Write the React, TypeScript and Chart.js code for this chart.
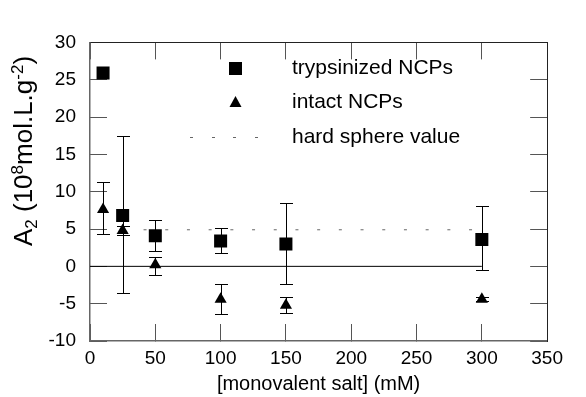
import { useEffect, useRef } from 'react';
import { Chart, registerables } from 'chart.js';
Chart.register(...registerables);

const salt = [10, 25, 50, 100, 150, 300];
const tryp = [25.9, 6.8, 4.1, 3.4, 3.0, 3.6];
const trypHi = [25.9, 17.4, 6.2, 5.2, 8.5, 8.1];
const trypLo = [25.9, -3.6, 2.1, 1.8, -2.4, -0.5];
const intact = [7.6, 4.8, 0.2, -4.4, -5.2, -4.4];
const intactHi = [11.3, 5.4, 1.3, -2.3, -4.1, -4.1];
const intactLo = [4.3, 4.2, -1.1, -6.4, -6.3, -4.7];
const hardSphere = 4.9;
const hardSphereX = [41, 300];
const zeroLineX = [0, 300];
const legendLabels = ['trypsinized NCPs', 'intact NCPs', 'hard sphere value'];
const xTitle = '[monovalent salt] (mM)';

const FONT = '"Liberation Sans", Arial, sans-serif';

const framePlugin = {
  id: 'frame',
  beforeDatasetsDraw(chart: any) {
    const { ctx, scales } = chart;
    const xs = scales.x, ys = scales.y;
    ctx.save();
    ctx.fillStyle = '#000';
    salt.forEach((sx, i) => {
      [[trypHi[i], trypLo[i]], [intactHi[i], intactLo[i]]].forEach(([hi, lo]) => {
        if (hi === lo) return;
        const px = Math.round(xs.getPixelForValue(sx));
        const ph = Math.round(ys.getPixelForValue(hi));
        const pl = Math.round(ys.getPixelForValue(lo));
        ctx.fillRect(px, ph, 1, pl - ph + 1);
        ctx.fillRect(px - 6, ph, 13, 1);
        ctx.fillRect(px - 6, pl, 13, 1);
      });
    });
    ctx.restore();
  },
  afterDraw(chart: any) {
    const { ctx } = chart;
    ctx.save();
    // legend
    ctx.fillStyle = '#000';
    ctx.fillRect(229, 62, 13, 13);
    ctx.beginPath();
    ctx.moveTo(235.5, 96); ctx.lineTo(241.5, 107); ctx.lineTo(229.5, 107);
    ctx.closePath(); ctx.fill();
    ctx.fillStyle = '#666';
    [190, 212, 233, 255].forEach((dx) => ctx.fillRect(dx, 137, 3, 1));
    ctx.fillStyle = '#000';
    ctx.font = `21px ${FONT}`;
    ctx.textBaseline = 'middle';
    ctx.textAlign = 'left';
    ctx.fillText(legendLabels[0], 292, 68);
    ctx.fillText(legendLabels[1], 292, 102);
    ctx.fillText(legendLabels[2], 292, 137);

    // x title
    ctx.textAlign = 'center';
    ctx.font = `20px ${FONT}`;
    ctx.fillText(xTitle, (chart.chartArea.left + chart.chartArea.right) / 2, 384);

    // y title
    ctx.translate(32, 151);
    ctx.rotate(-Math.PI / 2);
    ctx.textAlign = 'left';
    ctx.textBaseline = 'alphabetic';
    const big = 26, small = 17;
    const segs = [
      { t: 'A', s: big, dy: 0 },
      { t: '2', s: small, dy: 5 },
      { t: ' (10', s: big, dy: 0 },
      { t: '8', s: small, dy: -9 },
      { t: 'mol.L.g', s: big, dy: 0 },
      { t: '-2', s: small, dy: -9 },
      { t: ')', s: big, dy: 0 },
    ];
    let total = 0;
    segs.forEach((g) => { ctx.font = `${g.s}px ${FONT}`; total += ctx.measureText(g.t).width; });
    let cx = -total / 2;
    segs.forEach((g) => {
      ctx.font = `${g.s}px ${FONT}`;
      ctx.fillText(g.t, cx, g.dy);
      cx += ctx.measureText(g.t).width;
    });
    ctx.restore();
  },
};

const innerGrid = { display: true, drawOnChartArea: false, drawTicks: true, tickLength: -17, color: '#555', lineWidth: 1 };

export default function App() {
  const ref = useRef<HTMLCanvasElement>(null);
  useEffect(() => {
    document.body.style.margin = '0';
    const chart = new Chart(ref.current!, {
      type: 'scatter',
      data: {
        datasets: [
          {
            label: 'zero',
            data: zeroLineX.map((x) => ({ x, y: 0 })),
            showLine: true,
            borderColor: '#000',
            borderWidth: 1,
            pointRadius: 0,
          },
          {
            label: legendLabels[2],
            data: hardSphereX.map((x) => ({ x, y: hardSphere })),
            showLine: true,
            borderColor: '#666',
            borderWidth: 1,
            borderDash: [3, 18.7],
            pointRadius: 0,
          },
          {
            label: legendLabels[0],
            data: salt.map((x, i) => ({ x, y: tryp[i] })),
            pointStyle: 'rect',
            pointRadius: 9.2,
            backgroundColor: '#000',
            borderColor: '#000',
            borderWidth: 0,
          },
          {
            label: legendLabels[1],
            data: salt.map((x, i) => ({ x, y: intact[i] })),
            pointStyle: 'triangle',
            pointRadius: 7,
            backgroundColor: '#000',
            borderColor: '#000',
            borderWidth: 0,
          },
        ],
      } as any,
      options: {
        animation: false,
        responsive: false,
        layout: { padding: { top: 23, right: 20, left: 0, bottom: 0 } },
        plugins: { legend: { display: false }, tooltip: { enabled: false } },
        scales: {
          x: {
            type: 'linear',
            min: 0,
            max: 350,
            ticks: { stepSize: 50, color: '#000', font: { family: FONT, size: 19 }, padding: 23, maxRotation: 0 },
            grid: innerGrid,
            border: { display: true, color: '#666', width: 1.5 },
            afterFit: (s: any) => { s.height = 56; },
          },
          x2: {
            type: 'linear',
            position: 'top',
            min: 0,
            max: 350,
            ticks: { display: false, stepSize: 50 },
            grid: innerGrid,
            border: { display: true, color: '#222', width: 1 },
            afterFit: (s: any) => { s.height = 0; },
          },
          y: {
            type: 'linear',
            min: -10,
            max: 30,
            ticks: { stepSize: 5, color: '#000', font: { family: FONT, size: 19 }, padding: 31 },
            grid: innerGrid,
            border: { display: true, color: '#666', width: 1.5 },
            afterFit: (s: any) => { s.width = 90; },
          },
          y2: {
            type: 'linear',
            position: 'right',
            min: -10,
            max: 30,
            ticks: { display: false, stepSize: 5 },
            grid: innerGrid,
            border: { display: true, color: '#222', width: 1 },
            afterFit: (s: any) => { s.width = 0; },
          },
        },
      } as any,
      plugins: [framePlugin],
    });
    return () => chart.destroy();
  }, []);
  return <canvas ref={ref} width={586} height={397} style={{ display: 'block' }} />;
}
